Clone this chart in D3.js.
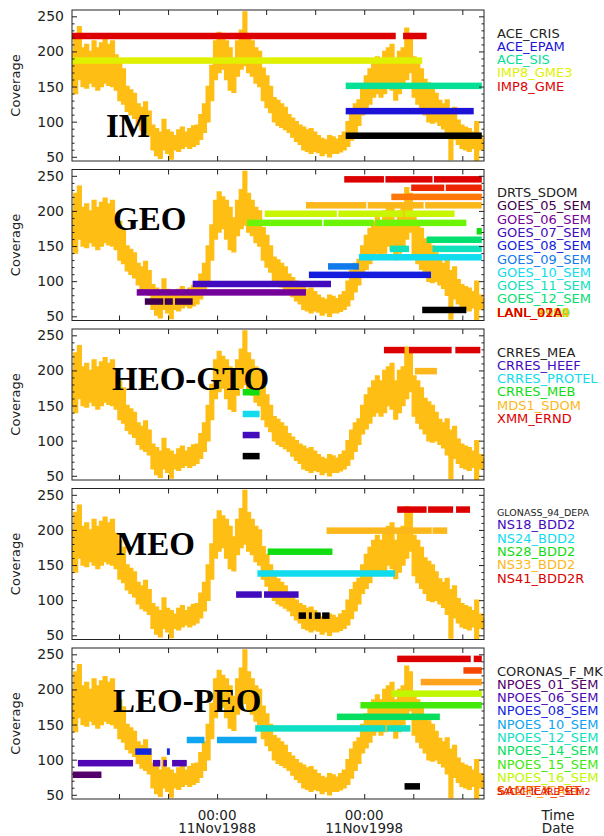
<!DOCTYPE html>
<html>
<head>
<meta charset="utf-8">
<script src="https://cdn.jsdelivr.net/npm/d3@7"></script>
<style>
  body { margin: 0; background: #fff; }
  svg { display: block; }
</style>
</head>
<body>
<div id="chart"></div>
<script>
// orange solar series, every quarter year from 1979.0
const fluxStart = 1979, fluxStep = 0.25;
const fluxHigh = [
  200, 225, 235, 205, 210, 200, 215, 205, 212, 218, 210, 215,
  195, 185, 175, 150, 145, 140, 125, 120, 128, 115, 95, 90,
  85, 103, 88, 85, 80, 88, 92, 85, 90, 94, 95, 110,
  125, 150, 180, 215, 227, 220, 215, 205, 190, 215, 230, 256,
  225, 215, 205, 200, 176, 165, 150, 134, 130, 125, 120, 110,
  105, 100, 95, 92, 88, 90, 85, 80, 76, 74, 80, 78,
  75, 80, 85, 100, 115, 125, 131, 150, 165, 175, 185, 192,
  185, 200, 205, 210, 185, 200, 205, 233, 225, 192, 185, 175,
  160, 155, 150, 140, 130, 125, 131, 115, 120, 102, 95, 92,
  90, 85, 100, 80, 75
];
const fluxLow = [
  150, 140, 160, 150, 148, 155, 150, 145, 150, 155, 152, 150,
  145, 130, 125, 115, 110, 105, 95, 88, 85, 80, 60, 52,
  48, 60, 55, 47, 60, 58, 62, 65, 62, 65, 68, 75,
  85, 100, 130, 160, 170, 175, 160, 145, 142, 165, 175, 180,
  170, 165, 155, 150, 130, 120, 113, 100, 95, 92, 89, 85,
  78, 72, 68, 60, 58, 55, 58, 56, 52, 55, 50, 55,
  55, 57, 60, 65, 74, 85, 95, 110, 117, 125, 135, 140,
  135, 140, 150, 145, 131, 140, 150, 160, 170, 135, 125, 117,
  110, 100, 98, 100, 95, 90, 80, 46, 75, 68, 62, 60,
  58, 62, 45, 60, 62
];

const yTicks = [50, 100, 150, 200, 250];
const xLabelDays = ["1988-11-11", "1998-11-11"];
const xLabelText = [["00:00", "11Nov1988"], ["00:00", "11Nov1998"]];
const xAxisTitle = ["Time", "Date"];
const panelTitles = ["IM", "GEO", "HEO-GTO", "MEO", "LEO-PEO"];

// IM
const imNames = ["ACE_CRIS", "ACE_EPAM", "ACE_SIS", "IMP8_GME3", "IMP8_GME"];
const imLevels = [80, 115, 151, 187, 222];
const imSpans = [
  [[1997.6, 2006.85]],
  [[1997.6, 2006.3]],
  [[1997.6, 2006.85]],
  [[1979.0, 2002.8]],
  [[1979.0, 2001.0], [2001.5, 2003.1]]
];

// GEO
const geoNames = ["DRTS_SDOM", "GOES_05_SEM", "GOES_06_SEM", "GOES_07_SEM", "GOES_08_SEM",
  "GOES_09_SEM", "GOES_10_SEM", "GOES_11_SEM", "GOES_12_SEM", "LANL_1989",
  "LANL_1990", "LANL_1991", "LANL_1994", "LANL_97A", "LANL_01A", "LANL_02A"];
const geoLevels = [59, 71, 84, 96, 109, 121, 134, 146, 159, 171, 183, 196, 208, 220, 233, 245];
const geoSpans = [
  [[2002.8, 2005.8]],
  [[1983.95, 1985.2], [1985.3, 1985.85], [1986.0, 1987.2]],
  [[1983.4, 1994.9]],
  [[1987.2, 1996.6]],
  [[1995.1, 2003.4]],
  [[1996.4, 1998.5]],
  [[1998.5, 2006.85]],
  [[2000.6, 2001.9], [2003.5, 2006.85]],
  [[2003.1, 2006.85]],
  [[2006.5, 2006.85]],
  [[1990.9, 1996.0], [1996.1, 1999.5], [1999.6, 2005.8]],
  [[1992.1, 1997.0], [1997.1, 2001.5], [2001.6, 2005.0]],
  [[1994.9, 1999.0], [1999.1, 2002.9], [2003.0, 2006.85]],
  [[2000.7, 2006.85]],
  [[2002.05, 2004.3], [2004.4, 2006.85]],
  [[1997.5, 2000.2], [2000.3, 2003.5], [2003.6, 2006.85]]
];

// HEO-GTO
const heoNames = ["CRRES_MEA", "CRRES_HEEF", "CRRES_PROTEL", "CRRES_MEB", "MDS1_SDOM", "XMM_ERND"];
const heoLevels = [78, 108, 138, 169, 199, 229];
const heoSpans = [
  [[1990.6, 1991.75]],
  [[1990.6, 1991.75]],
  [[1990.6, 1991.75]],
  [[1990.6, 1991.75]],
  [[2002.3, 2003.8]],
  [[2000.2, 2001.6], [2001.9, 2004.8], [2005.05, 2006.75]]
];

// MEO
const meoNames = ["GLONASS_94_DEPA", "NS18_BDD2", "NS24_BDD2", "NS28_BDD2", "NS33_BDD2", "NS41_BDD2R"];
const meoLevels = [78, 108, 138, 169, 199, 229];
const meoSpans = [
  [[1994.4, 1994.9], [1995.1, 1995.3], [1995.5, 1995.9], [1996.0, 1996.5]],
  [[1990.15, 1991.9], [1992.05, 1994.4]],
  [[1991.6, 2000.95]],
  [[1992.3, 1996.7]],
  [[1996.3, 2003.45], [2003.5, 2004.5]],
  [[2001.1, 2003.1], [2003.2, 2004.9], [2005.1, 2006.05]]
];

// LEO-PEO
const leoNames = ["CORONAS_F_MK", "NPOES_01_SEM", "NPOES_06_SEM", "NPOES_08_SEM", "NPOES_10_SEM",
  "NPOES_12_SEM", "NPOES_14_SEM", "NPOES_15_SEM", "NPOES_16_SEM", "SAC-C_ICARE",
  "SAMPEX_PET", "SAC-C_ICARE_SEM2"];
const leoLevels = [62, 78.5, 95, 111.5, 128, 144.5, 161, 177.5, 194, 210.5, 227, 243.5];
const leoSpans = [
  [[2001.6, 2002.65]],
  [[1979.05, 1981.0]],
  [[1979.4, 1983.15], [1984.5, 1985.0], [1985.2, 1985.45], [1985.8, 1986.8]],
  [[1983.3, 1984.4], [1985.45, 1985.65]],
  [[1986.8, 1988.0], [1988.85, 1991.55]],
  [[1991.45, 2000.3], [2000.4, 2002.0]],
  [[1997.0, 2004.0]],
  [[1998.6, 2006.85]],
  [[2000.7, 2006.85]],
  [[2002.7, 2006.85]],
  [[2005.6, 2006.85]],
  [[2001.1, 2006.1], [2006.3, 2006.85]]
];

const panels = [
  { names: imNames, levels: imLevels, spans: imSpans },
  { names: geoNames, levels: geoLevels, spans: geoSpans },
  { names: heoNames, levels: heoLevels, spans: heoSpans },
  { names: meoNames, levels: meoLevels, spans: meoSpans },
  { names: leoNames, levels: leoLevels, spans: leoSpans }
];

// layout
const W = 604, H = 836;
const left = 72, right = 484;
const top0 = 10, panelStep = 159.5, panelH = 151;
const titlePos = [[106, 127], [113, 60], [112, 61], [116, 66], [113, 64]];
const sansFont = "DejaVu Sans, Verdana, sans-serif";

// decimal year -> Date
function toDate(yr) {
  const y0 = Math.floor(yr);
  const a = Date.UTC(y0, 0, 1), b = Date.UTC(y0 + 1, 0, 1);
  return new Date(a + (yr - y0) * (b - a));
}

const flux = fluxHigh.map((h, i) => ({
  date: toDate(fluxStart + i * fluxStep), hi: h, lo: fluxLow[i]
}));

const x = d3.scaleUtc().domain([toDate(1979), toDate(2007)]).range([left, right]);

// IDL put a major tick every third of the ten years between the two labels
const d88 = new Date(xLabelDays[0] + "T00:00:00Z");
const d98 = new Date(xLabelDays[1] + "T00:00:00Z");
const tickStep = (d98 - d88) / 3;
const xTicks = d3.range(-3, 7).map(k => new Date(+d88 + k * tickStep))
  .filter(d => d > x.domain()[0] && d < x.domain()[1]);

// rainbow colour table
const rainbow = d3.scaleLinear()
  .domain([0, 0.13, 0.26, 0.36, 0.40, 0.47, 0.52, 0.60, 0.70, 0.76, 0.81, 0.89, 0.96, 1])
  .range(["#000000", "#780099", "#1414dd", "#10a0f0", "#10dcee", "#10e0b8", "#00e080", "#11dd11",
          "#99ff00", "#eeee00", "#ffaa20", "#ff6000", "#e00000", "#dd0000"]);

const svg = d3.select("#chart").append("svg")
  .attr("width", W).attr("height", H)
  .style("font-family", sansFont);

panels.forEach((p, pi) => {
  const top = top0 + pi * panelStep;
  const y = d3.scaleLinear().domain([44, 259]).range([top + panelH, top]);
  const g = svg.append("g");
  const n = p.names.length;
  const color = i => rainbow(i / (n - 1));

  g.append("clipPath").attr("id", "clip" + pi)
    .append("rect")
    .attr("x", left).attr("y", top)
    .attr("width", right - left).attr("height", panelH);

  const plot = g.append("g").attr("clip-path", `url(#clip${pi})`);

  const area = d3.area()
    .x(d => x(d.date))
    .y0(d => y(d.lo))
    .y1(d => y(d.hi))
    .curve(d3.curveStep);

  plot.append("path")
    .datum(flux)
    .attr("d", area)
    .attr("fill", "#ffbe14")
    .attr("stroke", "#ffbe14")
    .attr("stroke-width", 1.5);

  // coverage bars
  p.spans.forEach((segs, i) => {
    plot.selectAll(null)
      .data(segs)
      .enter().append("rect")
      .attr("x", d => x(toDate(d[0])))
      .attr("width", d => x(toDate(d[1])) - x(toDate(d[0])))
      .attr("y", y(p.levels[i]) - 3.25)
      .attr("height", 6.5)
      .attr("fill", color(i));
  });

  // axes, ticks pointing inward
  const minor = d3.range(50, 251, 10).filter(v => v % 50 !== 0);
  g.append("g").attr("transform", `translate(${left},0)`)
    .call(d3.axisLeft(y).tickValues(yTicks).tickSize(-5).tickPadding(8))
    .call(a => a.select(".domain").remove())
    .call(a => a.selectAll("text").attr("font-size", 14).attr("font-family", sansFont).attr("fill", "#222"));
  g.append("g").attr("transform", `translate(${left},0)`)
    .call(d3.axisLeft(y).tickValues(minor).tickSize(-2.5).tickFormat(""))
    .call(a => a.select(".domain").remove());
  g.append("g").attr("transform", `translate(${right},0)`)
    .call(d3.axisRight(y).tickValues(yTicks).tickSize(-5).tickFormat(""))
    .call(a => a.select(".domain").remove());
  g.append("g").attr("transform", `translate(${right},0)`)
    .call(d3.axisRight(y).tickValues(minor).tickSize(-2.5).tickFormat(""))
    .call(a => a.select(".domain").remove());
  g.append("g").attr("transform", `translate(0,${top + panelH})`)
    .call(d3.axisBottom(x).tickValues(xTicks).tickSize(-5).tickFormat(""))
    .call(a => a.select(".domain").remove());
  g.append("g").attr("transform", `translate(0,${top})`)
    .call(d3.axisTop(x).tickValues(xTicks).tickSize(-5).tickFormat(""))
    .call(a => a.select(".domain").remove());
  g.selectAll(".tick line").attr("stroke", "#222");

  g.append("rect")
    .attr("x", left).attr("y", top)
    .attr("width", right - left).attr("height", panelH)
    .attr("fill", "none").attr("stroke", "#222").attr("stroke-width", 1);

  g.append("text")
    .attr("transform", `translate(20,${top + panelH / 2}) rotate(-90)`)
    .attr("text-anchor", "middle")
    .attr("font-size", 13)
    .attr("fill", "#222")
    .text("Coverage");

  g.append("text")
    .attr("x", titlePos[pi][0]).attr("y", top + titlePos[pi][1])
    .attr("font-family", "Liberation Serif, Times New Roman, serif")
    .attr("font-weight", "bold")
    .attr("font-size", 33)
    .attr("fill", "#000")
    .text(panelTitles[pi]);

  // legend: ten slots, the rest piles up in the last one
  p.names.forEach((name, i) => {
    const slot = Math.min(i, 9);
    g.append("text")
      .attr("x", 497)
      .attr("y", top + 23 + slot * 13.3 + 4.5)
      .attr("font-size", name.length > 14 ? 9.5 : 13)
      .attr("fill", i === 0 ? "#222" : color(i))
      .text(name);
  });
});

// bottom labels
const lastBottom = top0 + 4 * panelStep + panelH;
xLabelDays.forEach((s, i) => {
  const d = new Date(s + "T00:00:00Z");
  xLabelText[i].forEach((t, j) => {
    svg.append("text")
      .attr("x", x(d)).attr("y", lastBottom + 21 + j * 13.2)
      .attr("text-anchor", "middle")
      .attr("font-size", 13.5)
      .attr("fill", "#222")
      .text(t);
  });
});
xAxisTitle.forEach((t, j) => {
  svg.append("text")
    .attr("x", 558).attr("y", lastBottom + 21 + j * 13.2)
    .attr("text-anchor", "middle")
    .attr("font-size", 13.5)
    .attr("fill", "#222")
    .text(t);
});
</script>
</body>
</html>
